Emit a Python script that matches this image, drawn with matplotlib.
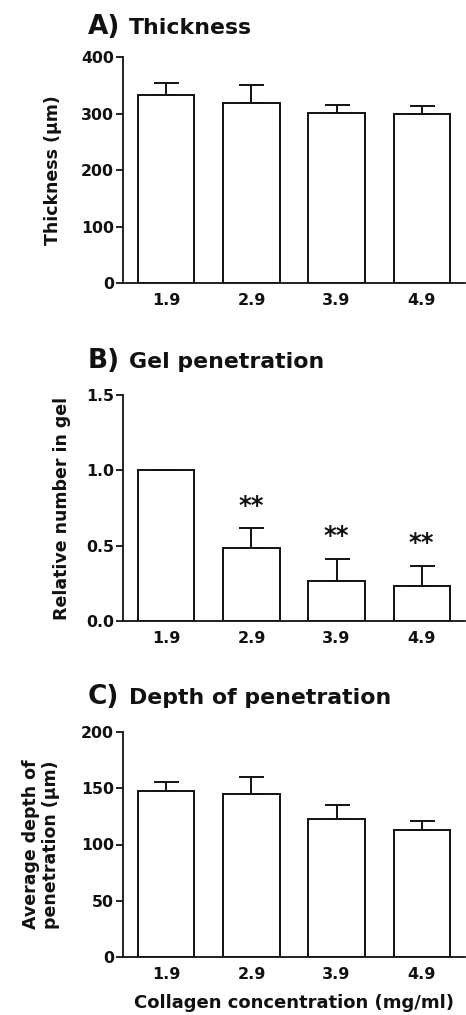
import matplotlib
matplotlib.use("Agg")
import matplotlib.pyplot as plt
import numpy as np

plt.rcParams['font.family'] = ['DejaVu Sans']
plt.rcParams['font.weight'] = 'bold'

categories = ["1.9", "2.9", "3.9", "4.9"]

thickness = [333, 319, 301, 300]
thickness_err = [21, 31, 14, 13]

gel_pen = [1.0, 0.483, 0.264, 0.235]
gel_pen_err = [0.0, 0.131, 0.150, 0.131]
gel_sig = ["", "**", "**", "**"]

depth = [148, 144.6, 122.7, 113]
depth_err = [8, 15.4, 12.7, 7.6]

W, H = 466, 1015
fig = plt.figure(figsize=(W / 100, H / 100), dpi=100)
INK = "#111111"

def px_axes(top, bottom, left=123, right=465):
    return fig.add_axes([left / W, 1 - bottom / H, (right - left) / W, (bottom - top) / H])

def style(ax, ymax, yticks, ticklabels):
    x = np.arange(len(categories))
    ax.set_xlim(-0.51, 3.51)
    ax.set_ylim(0, ymax)
    ax.set_yticks(yticks)
    ax.set_yticklabels(ticklabels)
    ax.set_xticks(x)
    ax.set_xticklabels(categories)
    for s in ("top", "right"):
        ax.spines[s].set_visible(False)
    for s in ("left", "bottom"):
        ax.spines[s].set_linewidth(1.3)
        ax.spines[s].set_color(INK)
    ax.tick_params(axis='y', length=5, width=1.3, pad=1.5, labelsize=11.3, colors=INK)
    ax.tick_params(axis='x', length=0, pad=7, labelsize=11.5, colors=INK)
    for lab in ax.get_xticklabels() + ax.get_yticklabels():
        lab.set_fontweight('bold')

def bars(ax, vals, errs):
    x = np.arange(len(categories))
    ax.bar(x, vals, width=0.66, color="white", edgecolor=INK, linewidth=1.4, zorder=2)
    ax.errorbar(x, vals, yerr=[np.zeros(len(vals)), errs], fmt='none', ecolor=INK,
                elinewidth=1.4, capsize=9, capthick=1.4, zorder=1)

def ylabel(ax, text, xpx, **kw):
    ax.set_ylabel(text, fontsize=12.5, fontweight='bold', color=INK, **kw)
    ax.yaxis.set_label_coords((xpx - 123) / (465 - 123), 0.5)
    ax.yaxis.label.set_verticalalignment('center')

def title(letter, text, baseline):
    fig.text(88 / W, 1 - baseline / H, letter, fontsize=19, fontweight='bold', va='baseline', ha='left', color=INK)
    fig.text(129 / W, 1 - baseline / H, text, fontsize=15.8, fontweight='bold', va='baseline', ha='left', color=INK)

# Panel A
axA = px_axes(57, 283)
bars(axA, thickness, thickness_err)
style(axA, 400, [0, 100, 200, 300, 400], ["0", "100", "200", "300", "400"])
ylabel(axA, "Thickness (μm)", 53)
title("A)", "Thickness", 34)

# Panel B
axB = px_axes(395, 621)
bars(axB, gel_pen, gel_pen_err)
style(axB, 1.5, [0.0, 0.5, 1.0, 1.5], ["0.0", "0.5", "1.0", "1.5"])
ylabel(axB, "Relative number in gel", 62)
for i, (v, e, s) in enumerate(zip(gel_pen, gel_pen_err, gel_sig)):
    if s:
        axB.text(i, v + e + 0.105, s, ha='center', va='baseline', fontsize=17.5, fontweight='bold', color=INK)
title("B)", "Gel penetration", 368)

# Panel C
axC = px_axes(732, 957)
bars(axC, depth, depth_err)
style(axC, 200, [0, 50, 100, 150, 200], ["0", "50", "100", "150", "200"])
ylabel(axC, "Average depth of\npenetration (μm)", 41, linespacing=1.15)
axC.set_xlabel("Collagen concentration (mg/ml)", fontsize=13, fontweight='bold', color=INK)
axC.xaxis.set_label_coords(0.5, (957 - 1003) / (957 - 732))
axC.xaxis.label.set_verticalalignment('center')
title("C)", "Depth of penetration", 704)

fig.savefig("out.png", dpi=100)
